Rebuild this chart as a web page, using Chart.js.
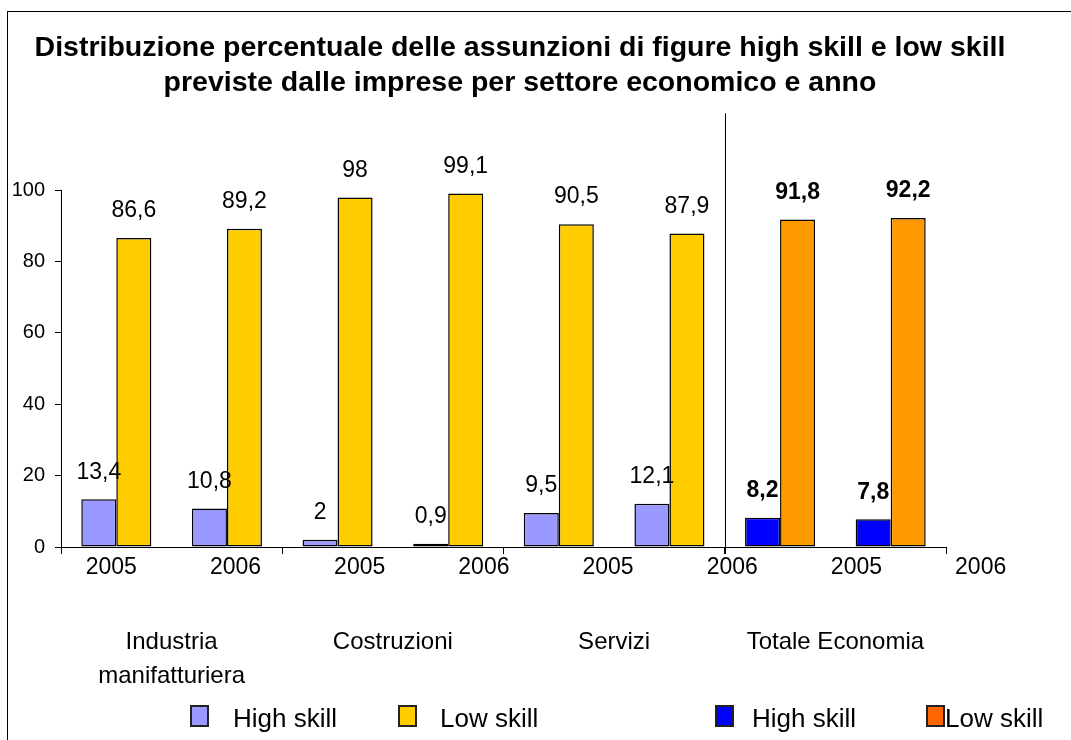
<!DOCTYPE html>
<html lang="it">
<head>
<meta charset="utf-8">
<title>Assunzioni high skill e low skill</title>
<script src="https://cdn.jsdelivr.net/npm/chart.js@4.4.1/dist/chart.umd.min.js"></script>
<style>
    body { margin: 0; background: #fff; }
    #wrap { position: relative; width: 1071px; height: 740px; }
    #legend {
        position: absolute; left: 0; top: 705px; width: 1071px; height: 30px;
        font-family: "Liberation Sans", Arial, sans-serif; font-size: 26px; color: #000;
    }
    .legend-item { position: absolute; top: 0; display: flex; align-items: flex-start; line-height: 26px; white-space: nowrap; }
    .legend-item:nth-child(1) { left: 190px; }
    .legend-item:nth-child(2) { left: 398px; }
    .legend-item:nth-child(3) { left: 715px; }
    .legend-item:nth-child(4) { left: 926px; }
    .swatch { width: 19px; height: 22px; box-sizing: border-box; border: 2px solid #222; }
    .legend-item:nth-child(1) .swatch { margin-right: 24px; }
    .legend-item:nth-child(2) .swatch { margin-right: 23px; }
    .legend-item:nth-child(3) .swatch { margin-right: 18px; }
    .legend-item:nth-child(4) .swatch { margin-right: 0; }
</style>
</head>
<body>
<div id="wrap">
    <canvas id="chart"></canvas>
    <div id="legend"></div>
</div>
<script>
// Chart data
const groupLabels = [["Industria", "manifatturiera"], "Costruzioni", "Servizi", "Totale Economia"];
const yearLabels = ["2005", "2006", "2005", "2006", "2005", "2006", "2005", "2006"];
const highSkill = [13.4, 10.8, 2, 0.9, 9.5, 12.1, 8.2, 7.8];
const lowSkill = [86.6, 89.2, 98, 99.1, 90.5, 87.9, 91.8, 92.2];
const yTicks = [0, 20, 40, 60, 80, 100];

// Colours: sectors vs. whole economy
const sectorColors = { high: "#9999FF", low: "#FFCC00" };
const totalColors = { high: "#0000FF", low: "#FF9900" };
const legendEntries = [
    { text: "High skill", color: sectorColors.high },
    { text: "Low skill", color: sectorColors.low },
    { text: "High skill", color: totalColors.high },
    { text: "Low skill", color: "#FF6600" },
];

const FONT = "'Liberation Sans', Arial, sans-serif";
Chart.defaults.font.family = FONT;
Chart.defaults.color = "#000";

// last group is "Totale Economia"
function isTotal(i) {
    return Math.floor(i / 2) === groupLabels.length - 1;
}

function barColors(key) {
    return yearLabels.map((_, i) => (isTotal(i) ? totalColors[key] : sectorColors[key]));
}

// White background + frame around the picture
const framePlugin = {
    id: "frame",
    beforeDraw(chart) {
        const ctx = chart.ctx;
        ctx.save();
        ctx.fillStyle = "#fff";
        ctx.fillRect(0, 0, chart.width, chart.height);
        ctx.strokeStyle = "#000";
        ctx.lineWidth = 1;
        ctx.strokeRect(7.5, 11.5, chart.width + 20, chart.height + 20);
        ctx.restore();
    },
};

// Values above the bars + separator before the total
const valueLabels = {
    id: "valueLabels",
    afterDatasetsDraw(chart) {
        const ctx = chart.ctx;
        const area = chart.chartArea;
        const xScale = chart.scales.x;
        ctx.save();
        ctx.fillStyle = "#000";
        ctx.textAlign = "center";
        ctx.textBaseline = "middle";
        chart.data.datasets.forEach((ds, d) => {
            chart.getDatasetMeta(d).data.forEach((bar, i) => {
                ctx.font = (isTotal(i) ? "bold " : "") + "23px " + FONT;
                ctx.fillText(String(ds.data[i]).replace(".", ","), bar.x, bar.y - 27);
            });
        });

        const sepX = Math.round((xScale.getPixelForValue(5) + xScale.getPixelForValue(6)) / 2) + 0.5;
        ctx.strokeStyle = "#000";
        ctx.lineWidth = 1;
        ctx.beginPath();
        ctx.moveTo(sepX, area.top - 77);
        ctx.lineTo(sepX, area.bottom + 7);
        ctx.stroke();
        ctx.restore();
    },
};

const chart = new Chart(document.getElementById("chart"), {
    type: "bar",
    data: {
        labels: yearLabels,
        datasets: [
            {
                label: "High skill",
                data: highSkill,
                backgroundColor: barColors("high"),
                borderColor: "#000",
                borderWidth: 1.5,
                borderSkipped: false,
            },
            {
                label: "Low skill",
                data: lowSkill,
                backgroundColor: barColors("low"),
                borderColor: "#000",
                borderWidth: 1.5,
                borderSkipped: false,
            },
        ],
    },
    options: {
        responsive: true,
        maintainAspectRatio: false,
        animation: false,
        categoryPercentage: 0.633,
        barPercentage: 1,
        layout: { padding: { top: 12, left: 8, right: 39, bottom: 47 } },
        plugins: {
            legend: { display: false },
            tooltip: { enabled: false },
            title: {
                display: true,
                text: [
                    "Distribuzione percentuale delle assunzioni di figure high skill e low skill",
                    "previste dalle imprese per settore economico e anno",
                ],
                color: "#000",
                font: { size: 28.5, weight: "bold", lineHeight: 1.25 },
                padding: { top: 18, bottom: 89 },
            },
        },
        scales: {
            x: {
                type: "category",
                offset: true,
                ticks: { display: false },
                grid: {
                    offset: true,
                    drawOnChartArea: false,
                    tickLength: 7,
                    // tick marks only at the sector boundaries
                    color: (c) => (c.index === undefined || c.index % 2 === 0 ? "#000" : "rgba(0,0,0,0)"),
                },
                border: { color: "#000", width: 1 },
                afterFit: (s) => { s.height = 7; },
            },
            // the year labels in the original sit on their own, slightly wider grid
            xYears: {
                type: "linear",
                position: "bottom",
                weight: 1,
                offset: false,
                bounds: "data",
                min: -0.405,
                max: 6.721,
                afterBuildTicks: (s) => { s.ticks = yearLabels.map((_, i) => ({ value: i })); },
                ticks: {
                    autoSkip: false,
                    maxRotation: 0,
                    padding: 0,
                    font: { size: 23 },
                    callback: (v, i) => yearLabels[i],
                },
                grid: { display: false, drawTicks: false, offset: false },
                border: { display: false },
                afterFit: (s) => { s.height = 28; },
            },
            xGroup: {
                type: "category",
                position: "bottom",
                weight: 2,
                labels: groupLabels,
                offset: true,
                ticks: { autoSkip: false, maxRotation: 0, padding: 43, font: { size: 24, lineHeight: 1.42 } },
                grid: { display: false, drawTicks: false },
                border: { display: false },
                afterFit: (s) => { s.height = 111; },
            },
            y: {
                min: yTicks[0],
                max: yTicks[yTicks.length - 1],
                ticks: { stepSize: yTicks[1] - yTicks[0], padding: 10, font: { size: 20 } },
                grid: { drawOnChartArea: false, tickLength: 6, color: "#000" },
                border: { color: "#000", width: 1 },
                afterFit: (s) => { s.width = 53; },
            },
            // empty space on the right where the last year label hangs out
            yRight: {
                type: "linear",
                position: "right",
                ticks: { display: false },
                grid: { display: false, drawTicks: false },
                border: { display: false },
                afterFit: (s) => { s.width = 86; },
            },
        },
    },
    plugins: [framePlugin, valueLabels],
});

// HTML legend (two pairs of entries, as in the original)
const legendBox = document.getElementById("legend");
legendEntries.forEach((entry) => {
    const item = document.createElement("div");
    item.className = "legend-item";
    const swatch = document.createElement("span");
    swatch.className = "swatch";
    swatch.style.background = entry.color;
    const text = document.createElement("span");
    text.textContent = entry.text;
    item.appendChild(swatch);
    item.appendChild(text);
    legendBox.appendChild(item);
});
</script>
</body>
</html>
